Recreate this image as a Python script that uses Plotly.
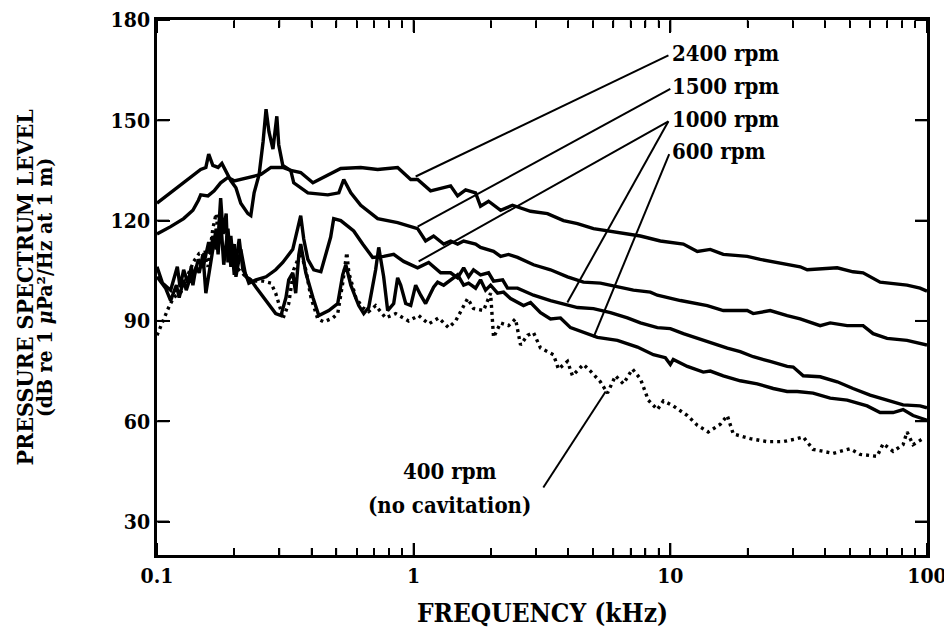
import plotly.graph_objects as go
import math

# ---------------- data (frequency in kHz, level in dB) ----------------
f_2400 = [0.100, 0.113, 0.127, 0.138, 0.145, 0.148, 0.158, 0.167, 0.177, 0.189, 0.200, 0.226, 0.254,
          0.278, 0.309, 0.332, 0.363, 0.405, 0.463, 0.520, 0.622, 0.724, 0.866, 0.974, 1.036, 1.164,
          1.393, 1.483, 1.594, 1.743, 1.822, 1.958, 2.182, 2.428, 2.853, 3.322, 3.835, 4.348, 5.017,
          5.688, 6.563, 7.646, 9.144, 11.24, 12.74, 14.31, 16.08, 19.94, 22.40, 28.53, 32.06, 34.15,
          44.69, 51.50, 56.37, 65.65, 71.81, 83.60, 93.97, 100.0]
L_2400 = [116.0, 118.2, 120.6, 123.1, 126.1, 127.7, 127.4, 128.9, 131.3, 132.9, 131.9, 132.9, 133.8,
          135.9, 135.9, 135.0, 134.4, 131.3, 133.5, 135.6, 135.9, 135.3, 135.9, 132.3, 132.3, 128.9,
          130.4, 127.4, 129.2, 128.3, 124.3, 125.8, 123.1, 124.6, 122.8, 122.1, 120.0, 119.1, 117.6,
          116.9, 116.0, 115.4, 113.9, 113.0, 110.8, 111.4, 109.9, 109.3, 108.4, 106.8, 106.2, 105.3,
          105.9, 104.7, 104.4, 101.6, 101.3, 100.7, 99.8, 98.9]

f_1500 = [0.100, 0.106, 0.116, 0.127, 0.139, 0.148, 0.155, 0.159, 0.165, 0.173, 0.179, 0.186, 0.194,
          0.203, 0.212, 0.226, 0.232, 0.239, 0.250, 0.259, 0.266, 0.273, 0.283, 0.293, 0.298, 0.309,
          0.318, 0.332, 0.341, 0.363, 0.387, 0.463, 0.511, 0.534, 0.569, 0.622, 0.724, 0.866, 1.036,
          1.113, 1.196, 1.309, 1.393, 1.483, 1.566, 1.743, 1.822, 2.048, 2.182, 2.342, 2.539, 2.931,
          3.413, 3.975, 4.586, 5.340, 6.222, 7.179, 8.360, 8.901, 10.95, 13.93, 16.08, 19.94, 21.03,
          24.49, 28.53, 32.06, 38.35, 41.96, 48.86, 56.37, 61.68, 69.89, 83.60, 93.97, 100.0]
L_1500 = [125.2, 126.7, 128.9, 131.3, 133.8, 135.3, 135.9, 139.9, 136.5, 135.9, 137.1, 134.4, 131.9,
          129.8, 125.2, 122.1, 121.5, 128.3, 133.8, 143.6, 153.3, 146.6, 141.4, 151.2, 142.7, 136.5,
          135.9, 135.0, 131.3, 129.8, 128.3, 127.7, 128.3, 132.3, 128.3, 124.6, 120.6, 119.4, 117.6,
          113.9, 115.4, 113.0, 113.9, 113.0, 113.9, 113.0, 112.0, 110.8, 109.3, 109.9, 109.0, 106.8,
          105.3, 103.2, 101.6, 101.3, 100.1, 99.2, 98.6, 97.7, 96.1, 94.6, 93.1, 93.1, 92.2,
          93.1, 91.6, 90.6, 88.6, 89.4, 88.6, 88.6, 86.2, 84.8, 84.2, 83.4, 82.8]

f_1000 = [0.100, 0.105, 0.113, 0.120, 0.123, 0.127, 0.132, 0.136, 0.139, 0.145, 0.151, 0.155, 0.159,
          0.162, 0.165, 0.170, 0.174, 0.177, 0.181, 0.186, 0.189, 0.194, 0.200, 0.209, 0.216, 0.222,
          0.228, 0.243, 0.266, 0.290, 0.309, 0.338, 0.354, 0.363, 0.373, 0.387, 0.408, 0.435, 0.475,
          0.488, 0.520, 0.584, 0.633, 0.692, 0.764, 0.836, 0.914, 1.036, 1.144, 1.274, 1.393, 1.483,
          1.566, 1.637, 1.711, 1.822, 1.958, 2.048, 2.222, 2.321, 2.539, 2.931, 3.413, 3.835, 4.348,
          5.017, 5.843, 6.805, 7.646, 8.901, 10.0, 11.24, 12.74, 14.70, 16.67, 18.72, 21.03, 24.49,
          28.53, 30.12, 32.94, 38.35, 44.69, 51.50, 60.03, 69.89, 80.68, 93.97, 100.0]
L_1000 = [106.2, 101.3, 99.2, 106.2, 100.1, 105.3, 101.3, 106.2, 103.2, 108.4, 105.9, 109.9, 113.6,
          109.9, 115.4, 111.4, 117.6, 126.7, 116.0, 122.1, 107.5, 115.4, 103.8, 114.5, 105.3, 103.8,
          101.3, 102.3, 103.2, 105.3, 107.5, 111.4, 117.6, 121.5, 114.5, 108.4, 105.3, 104.7, 115.1,
          120.6, 120.0, 116.9, 113.0, 109.0, 109.3, 109.9, 107.8, 105.9, 107.5, 104.4, 104.4, 102.9,
          105.9, 103.2, 105.3, 103.8, 104.4, 101.9, 102.3, 99.8, 99.8, 97.7, 96.1, 95.2, 94.0,
          93.7, 92.5, 90.9, 89.4, 88.0, 87.7, 86.2, 84.8, 83.4, 81.9, 80.8, 79.3, 77.9,
          76.4, 76.2, 73.6, 73.3, 71.8, 69.8, 67.8, 66.3, 64.9, 64.6, 64.0]

f_600 = [0.100, 0.108, 0.113, 0.119, 0.122, 0.127, 0.130, 0.136, 0.138, 0.142, 0.146, 0.151, 0.155,
         0.162, 0.167, 0.170, 0.173, 0.177, 0.182, 0.189, 0.194, 0.200, 0.203, 0.212, 0.222, 0.232,
         0.243, 0.266, 0.290, 0.304, 0.318, 0.326, 0.338, 0.347, 0.357, 0.363, 0.380, 0.405, 0.427,
         0.467, 0.506, 0.529, 0.544, 0.569, 0.611, 0.639, 0.668, 0.711, 0.731, 0.764, 0.792, 0.836,
         0.866, 0.890, 0.931, 0.974, 1.018, 1.065, 1.113, 1.196, 1.240, 1.309, 1.393, 1.483, 1.566,
         1.637, 1.743, 1.822, 1.906, 1.994, 2.123, 2.240, 2.385, 2.539, 2.680, 2.853, 3.120, 3.413,
         3.733, 4.083, 4.586, 5.199, 6.222, 7.443, 8.588, 9.564, 10.0, 10.27, 11.65, 13.44, 14.31,
         16.08, 18.72, 21.81, 25.17, 28.53, 31.21, 35.99, 41.96, 48.86, 58.45, 65.65, 73.78, 80.68,
         88.24, 100.0]
L_600 = [103.2, 99.8, 96.1, 100.7, 97.0, 102.3, 99.2, 103.8, 100.7, 106.2, 104.4, 109.9, 98.3,
         107.5, 113.0, 117.6, 109.9, 120.6, 106.8, 117.6, 106.2, 113.0, 103.2, 111.4, 103.2, 102.3,
         100.1, 96.1, 92.2, 91.6, 97.0, 102.3, 104.4, 98.3, 109.9, 113.0, 104.4, 97.0, 91.6,
         93.1, 95.2, 103.8, 106.8, 100.7, 94.6, 92.2, 94.0, 105.3, 112.0, 103.2, 93.1, 95.2,
         102.9, 100.7, 95.2, 94.6, 100.7, 97.7, 95.2, 100.1, 101.6, 100.7, 102.3, 103.8, 100.7,
         101.3, 99.8, 102.3, 99.2, 100.7, 98.3, 98.6, 96.7, 95.5, 94.6, 95.5, 92.5, 90.6,
         90.9, 88.0, 86.5, 85.1, 84.2, 82.2, 79.9, 79.0, 77.0, 78.5, 76.4, 74.7, 75.0,
         73.6, 72.1, 71.2, 69.8, 68.9, 68.9, 68.4, 66.9, 66.3, 64.6, 62.6, 62.6, 63.5,
         61.7, 60.3]

f_400 = [0.100, 0.105, 0.111, 0.116, 0.124, 0.133, 0.139, 0.146, 0.152, 0.158, 0.165, 0.170, 0.174,
         0.181, 0.189, 0.194, 0.203, 0.222, 0.236, 0.259, 0.278, 0.290, 0.304, 0.309, 0.326, 0.341,
         0.354, 0.363, 0.380, 0.398, 0.423, 0.447, 0.484, 0.506, 0.529, 0.549, 0.559, 0.595, 0.633,
         0.668, 0.711, 0.778, 0.851, 0.956, 1.046, 1.144, 1.251, 1.368, 1.457, 1.497, 1.623, 1.711,
         1.872, 1.994, 2.048, 2.182, 2.342, 2.494, 2.609, 2.778, 2.931, 3.120, 3.506, 3.666, 3.975,
         4.157, 4.586, 4.883, 5.340, 5.688, 6.113, 6.563, 7.116, 7.646, 8.207, 8.901, 9.394, 10.27,
         11.65, 12.74, 14.05, 15.66, 16.67, 17.59, 20.48, 23.85, 27.52, 31.21, 32.94, 35.99, 43.11,
         50.12, 54.85, 63.90, 67.45, 73.78, 80.68, 83.60, 88.24, 96.49]
L_400 = [85.7, 89.7, 94.0, 97.0, 98.6, 104.4, 107.8, 110.2, 110.5, 106.2, 117.6, 122.1, 114.5,
         120.6, 113.6, 109.9, 106.2, 103.2, 101.9, 101.9, 101.3, 98.3, 93.1, 90.6, 95.2, 105.3,
         108.4, 110.5, 105.3, 97.0, 90.6, 89.7, 90.9, 92.2, 101.3, 110.5, 104.4, 97.0, 94.0,
         92.8, 94.6, 90.9, 92.2, 90.0, 91.6, 89.1, 90.9, 88.0, 90.0, 91.6, 96.7, 93.7,
         93.1, 98.3, 85.1, 89.4, 88.6, 90.6, 82.8, 85.7, 86.5, 81.9, 79.9, 75.6, 77.9,
         73.6, 77.0, 75.0, 71.8, 68.4, 73.6, 71.2, 75.6, 72.7, 66.3, 63.5, 66.1, 64.6,
         61.7, 58.8, 56.8, 59.1, 61.7, 56.2, 54.8, 53.9, 53.9, 54.8, 55.3, 51.6, 50.4,
         51.8, 50.1, 49.5, 53.3, 51.0, 53.0, 56.8, 53.0, 54.8]

# leader lines: (freq, level) of label end and curve end
leaders = [
    ([9.83, 1.018], [169.4, 133.2]),   # 2400 rpm
    ([10.0, 1.036], [159.4, 118.2]),   # 1500 rpm
    ([9.83, 1.046], [149.7, 107.8]),   # 1000 rpm
    ([9.83, 3.97], [149.7, 95.5]),     # 1000 rpm
    ([9.90, 5.02], [139.9, 85.1]),     # 600 rpm
    ([3.20, 5.60], [40.2, 68.9]),      # 400 rpm
]

labels = ["2400 rpm", "1500 rpm", "1000 rpm", "600 rpm"]
label_y = [170.1, 160.3, 150.4, 140.8]

x_ticks = [0.1, 1, 10, 100]
x_ticktext = ["0.1", "1", "10", "100"]
x_minor = [0.2, 0.3, 0.4, 0.5, 0.6, 0.7, 0.8, 0.9,
           2, 3, 4, 5, 6, 7, 8, 9,
           20, 30, 40, 50, 60, 70, 80, 90]
y_ticks = [30, 60, 90, 120, 150, 180]

FONT = "DejaVu Serif Condensed, DejaVu Serif"

PLOT_W, PLOT_H = 770, 535          # plot-area size in px (figure minus margins)
MAJOR_LEN, MINOR_LEN = 12, 7       # inward tick lengths in px


def tfont(size):
    return dict(family=FONT, size=size, color="black", weight="bold")


fig = go.Figure()
for fx, ly in [(f_2400, L_2400), (f_1500, L_1500), (f_1000, L_1000), (f_600, L_600)]:
    fig.add_trace(go.Scatter(x=fx, y=ly, mode="lines",
                             line=dict(color="black", width=3.4), showlegend=False,
                             hoverinfo="skip"))
fig.add_trace(go.Scatter(x=f_400, y=L_400, mode="lines",
                         line=dict(color="black", width=3.4, dash="3px,4px"),
                         showlegend=False, hoverinfo="skip"))
for lx, lyy in leaders:
    fig.add_trace(go.Scatter(x=lx, y=lyy, mode="lines",
                             line=dict(color="black", width=2), showlegend=False,
                             hoverinfo="skip"))

# empty traces so the tick-only overlay axes are created
for xa, ya in [("x2", "y"), ("x3", "y"), ("x", "y2"), ("x", "y3")]:
    fig.add_trace(go.Scatter(x=[], y=[], xaxis=xa, yaxis=ya, showlegend=False,
                             hoverinfo="skip"))

# ---- inward tick marks as a fallback (positions from the tick arrays) ----
shapes = []
major_line = dict(color="black", width=2)
minor_line = dict(color="black", width=1.5)
for v in x_ticks + x_minor:
    is_major = v in x_ticks
    h = (MAJOR_LEN if is_major else MINOR_LEN) / PLOT_H
    st = major_line if is_major else minor_line
    shapes.append(dict(type="line", xref="x", yref="paper", x0=v, x1=v, y0=0, y1=h, line=st))
    shapes.append(dict(type="line", xref="x", yref="paper", x0=v, x1=v, y0=1, y1=1 - h, line=st))
w = MAJOR_LEN / PLOT_W
for v in y_ticks:
    shapes.append(dict(type="line", xref="paper", yref="y", x0=0, x1=w, y0=v, y1=v, line=major_line))
    shapes.append(dict(type="line", xref="paper", yref="y", x0=1, x1=1 - w, y0=v, y1=v, line=major_line))

annotations = []
for t, yv in zip(labels, label_y):
    annotations.append(dict(x=math.log10(10.0), y=yv, xref="x", yref="y", text=t,
                            showarrow=False, xanchor="left", yanchor="middle",
                            font=tfont(22)))
annotations.append(dict(x=math.log10(1.38), y=45.1, xref="x", yref="y", text="400 rpm",
                        showarrow=False, xanchor="center", yanchor="middle", font=tfont(22)))
annotations.append(dict(x=math.log10(1.38), y=35.0, xref="x", yref="y", text="(no cavitation)",
                        showarrow=False, xanchor="center", yanchor="middle", font=tfont(22)))
# axis titles
annotations.append(dict(x=0.5, y=-0.108, xref="paper", yref="paper", text="FREQUENCY (kHz)",
                        showarrow=False, xanchor="center", yanchor="middle", font=tfont(26)))
annotations.append(dict(x=-0.1727, y=0.5, xref="paper", yref="paper",
                        text="PRESSURE SPECTRUM LEVEL", textangle=-90,
                        showarrow=False, xanchor="center", yanchor="middle", font=tfont(23)))
annotations.append(dict(x=-0.146, y=0.5, xref="paper", yref="paper",
                        text="(dB re 1 <i>μ</i>Pa²/Hz at 1 m)", textangle=-90,
                        showarrow=False, xanchor="center", yanchor="middle", font=tfont(21)))


def tick_x_axis(side, pos):
    return dict(type="log", range=[-1, 2], overlaying="x", side=side, anchor="free",
                position=pos, tickvals=x_ticks, ticks="outside", ticklen=MAJOR_LEN,
                tickwidth=2, tickcolor="black", showticklabels=False, showline=False,
                showgrid=False, zeroline=False, automargin=False,
                minor=dict(tickvals=x_minor, ticks="outside", ticklen=MINOR_LEN,
                           tickwidth=1.5, tickcolor="black", showgrid=False))


def tick_y_axis(side, pos):
    return dict(range=[20, 180], overlaying="y", side=side, anchor="free", position=pos,
                tickvals=y_ticks, ticks="outside", ticklen=MAJOR_LEN, tickwidth=2,
                tickcolor="black", showticklabels=False, showline=False,
                showgrid=False, zeroline=False, automargin=False)


fig.update_layout(
    width=944, height=627,
    margin=dict(l=149, r=25, t=12, b=80, autoexpand=False),
    paper_bgcolor="white", plot_bgcolor="white",
    annotations=annotations,
    shapes=shapes,
    xaxis=dict(type="log", range=[-1, 2], tickvals=x_ticks, ticktext=x_ticktext,
               ticks="", showline=True, linewidth=2.5, linecolor="black", mirror=True,
               showgrid=False, zeroline=False, automargin=False,
               ticklabeloverflow="allow",
               tickfont=tfont(21)),
    yaxis=dict(range=[20, 180], tickvals=y_ticks,
               ticks="", showline=True, linewidth=2.5, linecolor="black", mirror=True,
               showgrid=False, zeroline=False, automargin=False,
               ticklabeloverflow="allow",
               tickfont=tfont(21)),
    xaxis2=tick_x_axis("top", 0),
    xaxis3=tick_x_axis("bottom", 1),
    yaxis2=tick_y_axis("right", 0),
    yaxis3=tick_y_axis("left", 1),
)

fig.write_html("out.html")
